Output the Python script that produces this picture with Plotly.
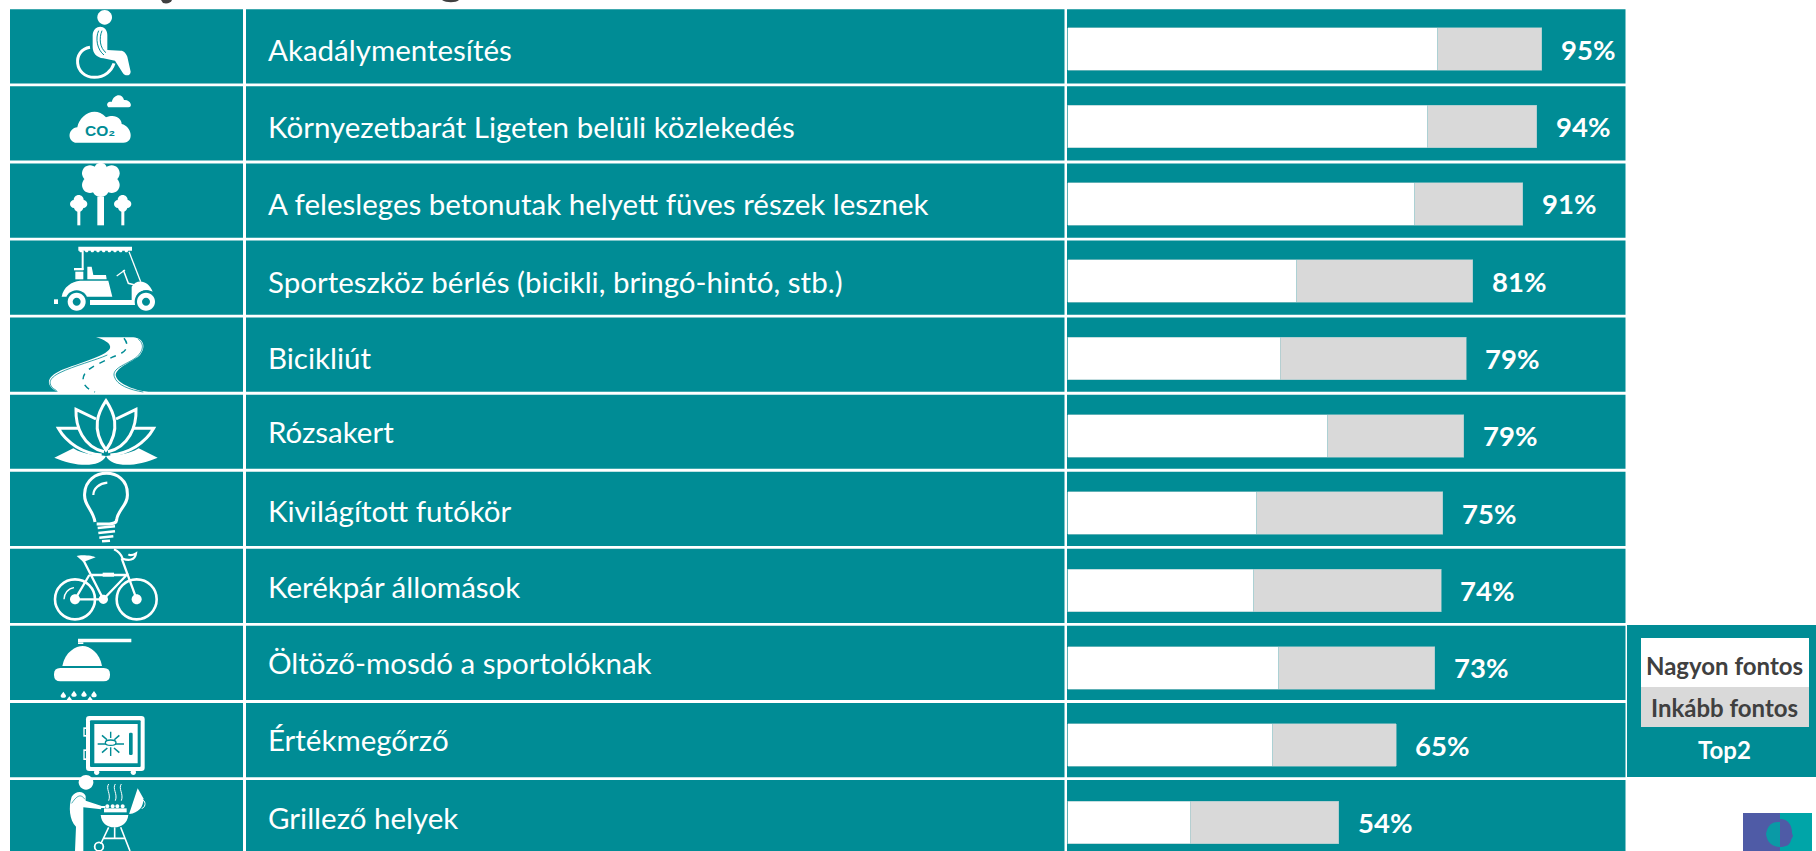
import re
import plotly.graph_objects as go

# ---------- data ----------
categories = ["Akadálymentesítés", "Környezetbarát Ligeten belüli közlekedés",
              "A felesleges betonutak helyett füves részek lesznek",
              "Sporteszköz bérlés (bicikli, bringó-hintó, stb.)", "Bicikliút", "Rózsakert",
              "Kivilágított futókör", "Kerékpár állomások", "Öltöző-mosdó a sportolóknak",
              "Értékmegőrző", "Grillező helyek"]
nagyon_fontos = [74, 72, 69.4, 45.8, 42.5, 52, 37.8, 37.2, 42.2, 41, 24.5]
inkabb_fontos = [20.8, 21.8, 21.6, 35.2, 37.2, 27.2, 37.2, 37.5, 31.2, 24.7, 29.7]
top2 = [95, 94, 91, 81, 79, 79, 75, 74, 73, 65, 54]
series_names = ["Nagyon fontos", "Inkább fontos"]
top2_name = "Top2"

TEAL, WHITE, GRAY = "#008C95", "#FFFFFF", "#D9D9D9"
W, H = 1816, 851
FONT = "Lato"

shapes = []
def add_shape(d, fill=None, line=None, w=0, dash=None, layer="above"):
    s = dict(type="path", path=d, xref="x2", yref="y2", layer=layer,
             line=dict(width=w, color=line or "rgba(0,0,0,0)"))
    if dash:
        s["line"]["dash"] = dash
    if fill:
        s["fillcolor"] = fill
    shapes.append(s)

def z(d, oy=0):
    """Scale a path written in 3x crop coordinates to page pixels."""
    tok = re.findall(r"[A-Za-z]|-?\d+\.?\d*", d)
    out, i = [], 0
    for t in tok:
        if t.isalpha():
            out.append(t); i = 0
        else:
            v = float(t) / 3 + (oy if i % 2 else 0)
            out.append(f"{v:.2f}"); i += 1
    return " ".join(out)

def F(d, oy=0, c=WHITE):
    add_shape(z(d, oy), fill=c)
def S(d, oy=0, w=3, c=WHITE, dash=None):
    add_shape(z(d, oy), line=c, w=w, dash=dash)
def circ_d(cx, cy, r, ry=None):
    ry = ry or r
    k = .5523
    return (f"M {cx-r} {cy} C {cx-r} {cy-k*ry} {cx-k*r} {cy-ry} {cx} {cy-ry} "
            f"C {cx+k*r} {cy-ry} {cx+r} {cy-k*ry} {cx+r} {cy} "
            f"C {cx+r} {cy+k*ry} {cx+k*r} {cy+ry} {cx} {cy+ry} "
            f"C {cx-k*r} {cy+ry} {cx-r} {cy+k*ry} {cx-r} {cy} Z")
def C(cx, cy, r, oy=0, c=WHITE):
    F(circ_d(cx, cy, r), oy, c)
def R(cx, cy, r, oy=0, w=2.3, c=WHITE, ry=None):
    S(circ_d(cx, cy, r, ry), oy, w, c)
def B(x0, y0, x1, y1, oy=0, c=WHITE):
    F(f"M {x0} {y0} L {x1} {y0} L {x1} {y1} L {x0} {y1} Z", oy, c)
def RR(x0, y0, x1, y1, r, oy=0, c=WHITE):
    F(f"M {x0+r} {y0} L {x1-r} {y0} Q {x1} {y0} {x1} {y0+r} L {x1} {y1-r} Q {x1} {y1} {x1-r} {y1} "
      f"L {x0+r} {y1} Q {x0} {y1} {x0} {y1-r} L {x0} {y0+r} Q {x0} {y0} {x0+r} {y0} Z", oy, c)
def drop(x, y, oy=0):
    F(f"M {x} {y-11} C {x+3} {y-5} {x+9} {y-2} {x+8} {y+3} C {x+7} {y+9} {x-7} {y+9} {x-8} {y+3} C {x-9} {y-2} {x-3} {y-5} {x} {y-11} Z", oy)

# ---------- table cells ----------
row_top = 9.3
pitch = 77.07
row_h = 74.2
for i in range(len(categories)):
    y0 = row_top + pitch * i
    y1 = min(y0 + row_h, H)
    for x0, x1 in [(10, 243), (246, 1064.5), (1067, 1625.5)]:
        add_shape(f"M {x0} {y0} L {x1} {y0} L {x1} {y1} L {x0} {y1} Z", fill=TEAL, layer="below")

# legend panel
add_shape("M 1627 625 L 1816 625 L 1816 777 L 1627 777 Z", fill=TEAL, layer="below")
add_shape("M 1641 638 L 1809 638 L 1809 687 L 1641 687 Z", fill=WHITE, layer="below")
add_shape("M 1641 687 L 1809 687 L 1809 727 L 1641 727 Z", fill=GRAY, layer="below")

# clipped title descenders
add_shape("M 161 0 L 172 0 C 171 3 167 4 163 3 Z", fill="#404040")
add_shape("M 442 0 L 459 0 C 456 3 446 3 442 0 Z", fill="#404040")

# logo
add_shape("M 1743 813 L 1780 813 L 1780 851 L 1743 851 Z", fill="#4F5BA6")
add_shape("M 1780 813 L 1812 813 L 1812 851 L 1780 851 Z", fill="#00A5A8")
add_shape("M 1780 822 C 1770 821 1767 828 1766 834 C 1767 842 1772 847 1780 847 Z", fill="#0A9AA6")
add_shape("M 1780 819 C 1788 819 1792 825 1792 833 L 1793 836 L 1791 840 C 1790 845 1786 847 1780 847 Z", fill="#4F5BA6")

# ---------- icons (paths in 3x crop units) ----------
# wheelchair
C(314, 52, 22)
F("M 278 105 C 280 72 322 72 322 105 L 322 150 L 362 152 C 372 152 378 160 382 170 L 392 215 C 392 228 375 230 368 218 L 345 182 L 310 175 C 290 172 278 160 278 140 Z")
S("M 296 92 C 285 115 292 150 312 165", w=1, c=TEAL)
S("M 306 92 C 296 115 300 145 318 158", w=1, c=TEAL)
S("M 270 142 C 215 150 222 232 283 232 C 315 232 335 212 342 190", w=3)
# CO2 clouds
F("M 325 322 C 315 310 328 304 335 306 C 342 280 368 280 372 300 C 392 298 400 322 385 322 Z")
F("M 225 428 C 200 420 205 385 232 382 C 238 345 285 315 318 352 C 345 340 365 355 365 372 C 395 378 405 428 370 428 Z")
# trees
for cx, cy, r in [(302, 507, 19), (270, 520, 24), (335, 520, 24), (270, 555, 24), (335, 555, 24), (302, 565, 26), (302, 538, 35)]:
    C(cx, cy, r)
B(292, 590, 312, 676)
for c0 in (236, 368):
    for dx, dy, r in [(0, 600, 15), (-14, 612, 12), (14, 612, 12), (0, 622, 14)]:
        C(c0 + dx, dy, r)
    B(c0 - 4, 630, c0 + 5, 676)
# golf cart
B(235, 740, 396, 752)
for xx in range(243, 392, 17):
    C(xx, 752, 5)
B(245, 752, 251, 810)
S("M 387 755 L 422 845", w=1.3)
F("M 262 800 L 275 800 L 280 825 L 318 825 L 320 838 L 262 838 Z")
B(222, 804, 250, 811)
B(226, 815, 250, 838)
F("M 185 890 C 190 860 215 845 240 842 L 325 842 L 337 890 Z")
F("M 395 860 C 410 835 445 840 458 875 C 425 862 405 880 405 915 L 270 915 L 270 900 L 395 900 Z")
S("M 350 828 L 375 810", w=1.3)
S("M 370 810 L 385 850 L 405 855", w=1.5)
B(162, 898, 174, 912)
for cx in (230, 438):
    C(cx, 905, 34, c=TEAL)
    C(cx, 905, 27)
    C(cx, 905, 12, c=TEAL)
# road (row 5)
o = 320
F("M 288 52 L 400 52 C 430 55 440 80 420 105 C 400 125 350 140 347 165 C 350 190 400 210 445 216 L 175 216 C 140 200 135 175 175 155 C 215 135 320 110 330 85 C 335 70 310 58 288 52 Z", o)
S("M 372 55 C 395 85 370 100 340 110 C 310 125 270 140 255 160 C 240 185 255 205 285 216", o, w=1.5, c=TEAL, dash="6px,6px")
S("M 415 58 C 438 75 425 100 405 115 C 375 135 335 145 343 170 C 350 195 390 210 430 216", o, w=.8, c=TEAL)
S("M 170 212 C 140 195 145 175 180 158 C 220 138 290 120 322 105", o, w=.8, c=TEAL)
# lotus (row 6)
S("M 318 242 C 340 275 365 325 318 390 C 271 325 296 275 318 242 Z", o, w=3)
for m in (1, -1):
    X = lambda v: 318 + m * (v - 318)
    S(f"M {X(288)} 297 L {X(228)} 268 C {X(226)} 320 {X(250)} 380 {X(312)} 395", o, w=3)
    S(f"M {X(240)} 325 L {X(175)} 325 C {X(200)} 370 {X(250)} 400 {X(305)} 405", o, w=3)
    F(f"M {X(163)} 413 L {X(220)} 385 C {X(250)} 405 {X(290)} 405 {X(318)} 408 C {X(300)} 445 {X(225)} 440 {X(163)} 413 Z", o)
# bulb (row 7)
S("M 285 606 C 280 570 250 555 254 520 C 258 440 382 440 382 520 C 386 555 352 570 350 600 C 349 610 340 611 328 612 L 290 612", o, w=3)
S("M 280 525 C 280 505 298 490 322 488", o, w=2.2)
for xa, ya, xb, yb in [(293, 624, 345, 619), (295, 639, 345, 634), (298, 653, 340, 649), (306, 664, 330, 662)]:
    S(f"M {xa} {ya} L {xb} {yb}", o, w=2.5)
# bicycle (row 8)
for cx in (225, 410):
    R(cx, 838, 60, o, w=2.6)
    C(cx, 838, 15, o)
S("M 192 838 C 192 820 205 805 222 803", o, w=1.4)
S("M 250 720 L 310 838 L 380 765 L 268 765 M 225 838 L 310 838 M 225 838 L 268 765 M 365 715 L 410 838", o, w=2.3)
B(308, 758, 342, 770, o)
C(310, 838, 14, o)
F("M 230 708 C 240 703 280 706 287 712 L 250 726 Z", o)
S("M 342 688 C 358 695 364 705 368 716 C 385 722 405 722 408 700 C 400 705 392 708 385 703", o, w=2.2)
# shower (row 9)
o = 590
B(234, 146, 394, 157, o)
B(234, 157, 250, 162, o)
F("M 187 228 C 195 185 228 168 248 168 C 270 168 300 190 306 228 Z", o)
RR(162, 234, 330, 274, 19, o)
for x_, y_ in [(190, 316), (222, 313), (252, 313), (282, 314), (208, 330), (270, 330)]:
    drop(x_, y_, o)
# safe (row 10)
for hy0, hy1 in [(412, 440), (478, 510)]:
    B(250, hy0, 264, hy1, o)
    B(254, hy0 + 5, 262, hy1 - 5, o, TEAL)
C(290, 547, 8, o)
C(400, 547, 8, o)
RR(258, 378, 434, 543, 10, o)
RR(270, 391, 422, 531, 3, o, TEAL)
B(283, 402, 413, 520, o)
S("M 293 462 L 372 462 M 332 425 L 332 498", o, w=1.4, c=TEAL)
S("M 306 436 L 322 450 M 358 436 L 342 450 M 306 488 L 322 474 M 358 488 L 342 474", o, w=1.6, c=TEAL)
C(332, 458, 14, o, WHITE)
R(332, 458, 16, o, w=1.3, c=TEAL, ry=8)
RR(387, 428, 398, 495, 4, o, TEAL)
# griller (row 11)
C(258, 577, 22, o)
F("M 215 620 C 225 603 250 600 257 618 L 257 632 L 305 648 L 303 658 L 250 652 L 250 700 L 250 783 L 225 783 L 228 710 C 208 690 205 650 215 620 Z", o)
S("M 215 640 C 235 610 245 615 255 628", o, w=.7, c=TEAL)
for xs in (326, 346, 364):
    S(f"M {xs} 582 C {xs-10} 596 {xs+8} 612 {xs} 632", o, w=1)
B(312, 655, 380, 667, o)
for xs in (322, 338, 352, 368):
    C(xs, 649, 6, o)
B(303, 648, 316, 654, o)
F("M 388 670 L 413 595 L 430 625 C 432 650 415 670 388 672 Z", o)
S("M 428 630 C 440 635 435 655 425 655", o, w=1)
F("M 302 675 L 385 675 C 382 700 365 712 343 712 C 320 712 305 700 302 675 Z", o)
S("M 326 712 L 302 762 M 362 712 L 390 783 M 312 745 L 374 745 M 344 712 L 344 745", o, w=1.6)
R(297, 770, 13, o, w=1.8)

# ---------- chart ----------
bar_y0, bar_pitch = 49.2, 77.33   # page px of first bar centre, bar spacing
yr = [(H - bar_y0) / bar_pitch, -bar_y0 / bar_pitch]
x0_px, px_per_pct = 1067.5, 5.0
xr = [-x0_px / px_per_pct, (W - x0_px) / px_per_pct]
pos = list(range(len(categories)))

fig = go.Figure()
edge = dict(width=0.6, color="#9CC8CB")
fig.add_bar(y=pos, x=nagyon_fontos, name=series_names[0], orientation="h", marker=dict(color=WHITE, line=edge))
fig.add_bar(y=pos, x=inkabb_fontos, name=series_names[1], orientation="h", marker=dict(color=GRAY, line=edge))

anns = []
label_shift = [0, 0, 0, 0, 1, 4, 3, 4, 5, 6, 5]
for i, cat in enumerate(categories):
    anns.append(dict(x=266, xref="x2", y=i, yref="y", yshift=label_shift[i], text=cat, showarrow=False,
                     xanchor="left", yanchor="middle", font=dict(family=FONT, size=29.5, color=WHITE)))
    anns.append(dict(x=nagyon_fontos[i] + inkabb_fontos[i], xref="x", y=i, yref="y", text=f"{top2[i]}%",
                     showarrow=False, xshift=17, xanchor="left", yanchor="middle",
                     font=dict(family=FONT, size=27.5, color=WHITE, weight="bold")))
for txt, yy, col in [(series_names[0], 665, "#404040"), (series_names[1], 707, "#404040"), (top2_name, 749, WHITE)]:
    anns.append(dict(x=1724, xref="x2", y=yy, yref="y2", text=txt, showarrow=False, xanchor="center", yanchor="middle",
                     font=dict(family=FONT, size=24, color=col, weight="bold")))
anns.append(dict(x=99.5, xref="x2", y=130, yref="y2", text="CO₂", showarrow=False, xanchor="center", yanchor="middle",
                 font=dict(family="Liberation Sans", size=15.5, color=TEAL, weight="bold")))

fig.update_layout(
    width=W, height=H, autosize=False, margin=dict(l=0, r=0, t=0, b=0, pad=0),
    paper_bgcolor=WHITE, plot_bgcolor="rgba(0,0,0,0)", barmode="stack", bargap=0.45, showlegend=False,
    xaxis=dict(domain=[0, 1], range=xr, visible=False, fixedrange=True),
    yaxis=dict(domain=[0, 1], range=yr, visible=False, fixedrange=True),
    xaxis2=dict(domain=[0, 1], range=[0, W], overlaying="x", visible=False, anchor="y2", fixedrange=True),
    yaxis2=dict(domain=[0, 1], range=[H, 0], overlaying="y", visible=False, anchor="x2", fixedrange=True),
    shapes=shapes, annotations=anns,
)
# keep the second axes alive with an invisible trace
fig.add_scatter(x=[0], y=[0], xaxis="x2", yaxis="y2", mode="markers", marker=dict(opacity=0), hoverinfo="skip", showlegend=False)

fig.write_html("out.html", config=dict(displayModeBar=False),
               post_script="document.body.style.margin='0';document.body.style.overflow='hidden';")
